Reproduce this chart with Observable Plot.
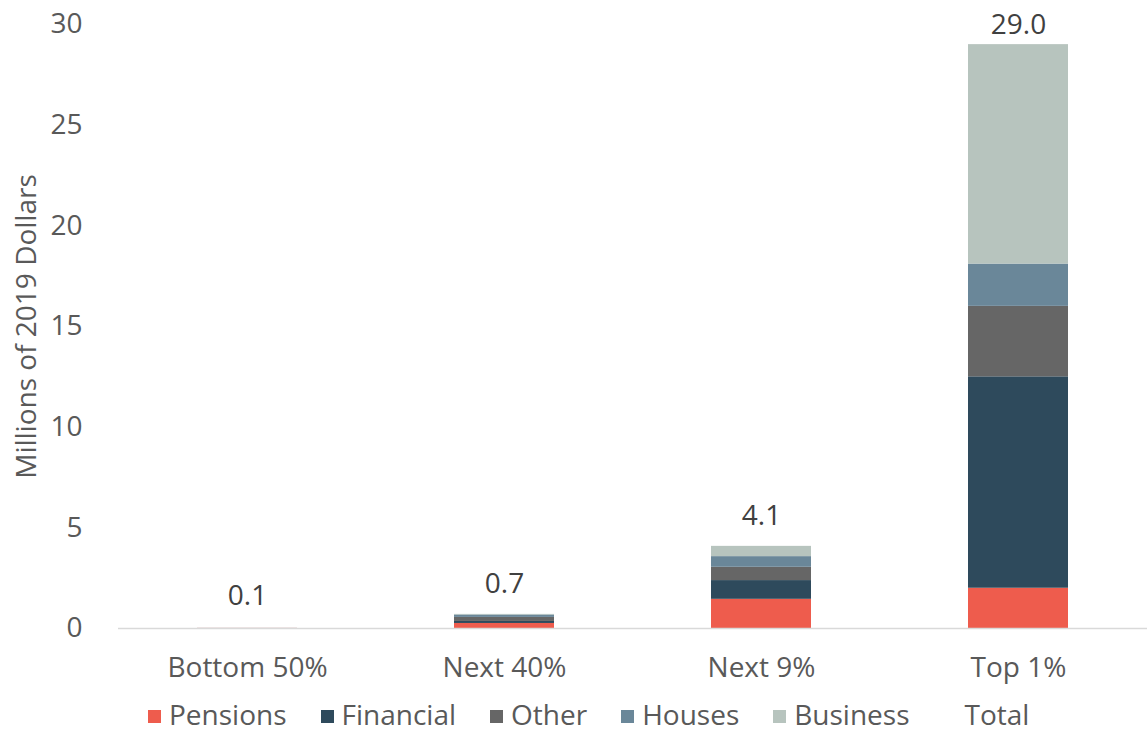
<!DOCTYPE html>
<html>
<head>
<meta charset="utf-8">
<script src="https://cdn.jsdelivr.net/npm/d3@7"></script>
<script src="https://cdn.jsdelivr.net/npm/@observablehq/plot@0.6"></script>
<style>
  html, body { margin: 0; padding: 0; background: #fff; }
  #chart { width: 1147px; }
  .legend { display: flex; align-items: center; gap: 34px; padding-left: 148px; height: 47px;
            font-family: "Open Sans", sans-serif; font-size: 28px; color: #595959; }
  .legend .item { display: flex; align-items: center; gap: 8px; }
  .legend .sw { width: 13px; height: 13px; display: inline-block; margin-top: 6px; }
</style>
</head>
<body>
<div id="chart"></div>
<script>
const groups = ["Bottom 50%", "Next 40%", "Next 9%", "Top 1%"];
const components = ["Pensions", "Financial", "Other", "Houses", "Business"];
const colors = ["#EE5C4D", "#2E4A5C", "#666666", "#6A8799", "#B7C4BE"];
const pensions  = [0.005, 0.25, 1.45, 2.0];
const financial = [0.0, 0.10, 0.93, 10.5];
const other     = [0.0, 0.20, 0.66, 3.5];
const houses    = [0.005, 0.12, 0.53, 2.1];
const business  = [0.0, 0.03, 0.51, 10.9];
const totals    = [0.1, 0.7, 4.1, 29.0];
const yTicks    = [0, 5, 10, 15, 20, 25, 30];
const yTitle    = "Millions of 2019 Dollars";

const series = [pensions, financial, other, houses, business];
const rows = [];
groups.forEach((g, i) => {
  components.forEach((c, j) => rows.push({group: g, component: c, value: series[j][i]}));
});
const totalRows = groups.map((g, i) => ({group: g, total: totals[i]}));

const font = "Open Sans, sans-serif";
const plot = Plot.plot({
  width: 1147,
  height: 690,
  marginTop: 24,
  marginLeft: 118,
  marginRight: 0,
  marginBottom: 62,
  style: {fontFamily: font, fontSize: "28px", color: "#595959", background: "#fff"},
  x: {domain: groups, paddingInner: 0.61, paddingOuter: 0.305, label: null},
  y: {domain: [0, 30], label: null},
  color: {domain: components, range: colors},
  marks: [
    Plot.barY(rows, Plot.stackY({x: "group", y: "value", fill: "component", order: components})),
    Plot.ruleY([0], {stroke: "#D9D9D9", strokeWidth: 1.5}),
    Plot.axisY({ticks: yTicks, tickSize: 0, tickPadding: 36, fontSize: 28, label: null}),
    Plot.axisX({tickSize: 0, tickPadding: 29, fontSize: 28, label: null}),
    Plot.text([yTitle], {frameAnchor: "left", textAnchor: "middle", rotate: -90, dx: -91, fontSize: 28, fill: "#595959"}),
    Plot.text(totalRows, {
      x: "group",
      y: d => Math.min(d.total, 28.5),
      text: d => d.total.toFixed(1),
      lineAnchor: "bottom",
      dy: -21,
      fontSize: 28,
      fill: "#404040"
    })
  ]
});
document.getElementById("chart").appendChild(plot);

const legend = document.createElement("div");
legend.className = "legend";
components.concat(["Total"]).forEach((c, i) => {
  const item = document.createElement("div");
  item.className = "item";
  const sw = document.createElement("span");
  sw.className = "sw";
  sw.style.background = i < colors.length ? colors[i] : "transparent";
  const label = document.createElement("span");
  label.textContent = c;
  item.appendChild(sw);
  item.appendChild(label);
  legend.appendChild(item);
});
document.getElementById("chart").appendChild(legend);
</script>
</body>
</html>
